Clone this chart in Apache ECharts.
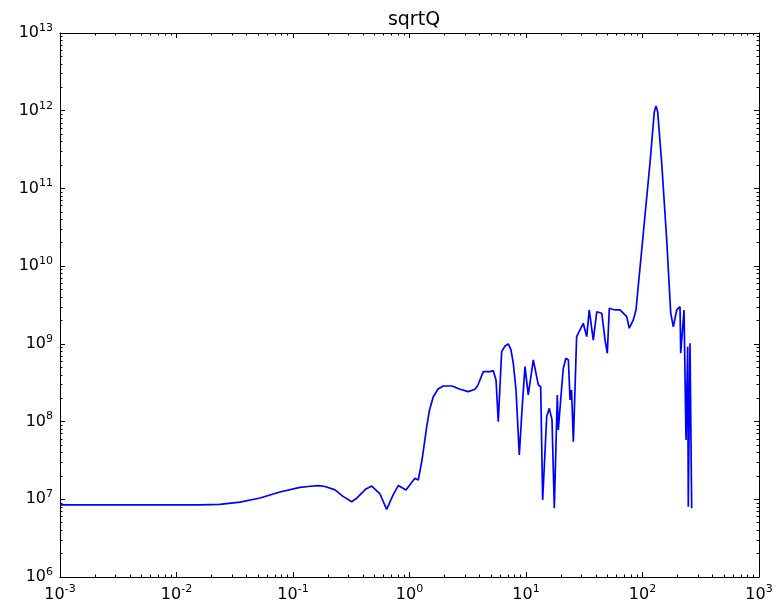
<!DOCTYPE html>
<html>
<head>
<meta charset="utf-8">
<script src="https://cdn.jsdelivr.net/npm/echarts@6/dist/echarts.min.js"></script>
<style>html,body{margin:0;padding:0;background:#fff}#c{width:778px;height:605px}</style>
</head>
<body>
<div id="c"></div>
<script>
const title = 'sqrtQ';
const xValues = [0.001, 0.00592, 0.0158, 0.0236, 0.0351, 0.0521, 0.0773, 0.1148, 0.1346, 0.164, 0.1884, 0.2296, 0.2687, 0.319, 0.354, 0.391, 0.423, 0.474, 0.558, 0.637, 0.722, 0.801, 0.933, 1.051, 1.114, 1.19, 1.28, 1.406, 1.485, 1.60, 1.757, 1.95, 2.32, 2.71, 3.20, 3.65, 3.87, 4.30, 4.91, 5.24, 5.53, 5.78, 6.18, 6.61, 7.05, 7.43, 7.78, 8.21, 8.76, 9.24, 9.80, 10.46, 11.55, 12.76, 13.37, 13.90, 15.06, 15.85, 16.72, 17.50, 18.57, 18.93, 20.26, 20.9, 22.0, 23.1, 23.9, 24.6, 25.5, 27.2, 29.1, 31.0, 33.2, 34.9, 37.8, 40.5, 44.7, 47.7, 49.9, 51.9, 58.1, 64.1, 73.2, 77.0, 83.4, 87.9, 101.6, 115.9, 126.3, 130.6, 135.0, 146.2, 161.4, 174.7, 183.9, 196.6, 209.9, 212.8, 227.2, 236.3, 244.3, 247.2, 255.7, 264.4];
const yValues = [8.45e6, 8.45e6, 8.45e6, 8.6e6, 9.2e6, 1.04e7, 1.24e7, 1.42e7, 1.46e7, 1.50e7, 1.46e7, 1.32e7, 1.09e7, 9.3e6, 1.04e7, 1.21e7, 1.36e7, 1.48e7, 1.17e7, 7.43e6, 1.13e7, 1.50e7, 1.32e7, 1.67e7, 1.86e7, 1.77e7, 3.2e7, 8.6e7, 1.41e8, 2.09e8, 2.63e8, 2.87e8, 2.87e8, 2.61e8, 2.43e8, 2.61e8, 2.96e8, 4.39e8, 4.39e8, 4.52e8, 3.43e8, 9.97e7, 7.94e8, 9.4e8, 9.97e8, 8.35e8, 5.62e8, 2.55e8, 3.72e7, 1.41e8, 5.09e8, 2.20e8, 6.21e8, 2.96e8, 2.81e8, 9.8e6, 1.16e8, 1.48e8, 1.05e8, 7.66e6, 2.20e8, 7.8e7, 2.81e8, 4.85e8, 6.53e8, 6.21e8, 1.90e8, 2.55e8, 5.5e7, 1.24e9, 1.51e9, 1.84e9, 1.24e9, 2.73e9, 1.12e9, 2.59e9, 2.48e9, 1.12e9, 7.57e8, 2.87e9, 2.73e9, 2.73e9, 2.24e9, 1.59e9, 2.03e9, 2.73e9, 2.65e10, 2.11e11, 9.66e11, 1.15e12, 9.66e11, 2.11e11, 2.17e10, 2.48e9, 1.66e9, 2.73e9, 3.01e9, 7.57e8, 2.73e9, 5.79e7, 9.2e8, 8.04e6, 1.02e9, 7.66e6];
const xMajorTicks = [1e-3, 1e-2, 1e-1, 1e0, 1e1, 1e2, 1e3];
const yMajorTicks = [1e6, 1e7, 1e8, 1e9, 1e10, 1e11, 1e12, 1e13];
const minorMultipliers = [2, 3, 4, 5, 6, 7, 8, 9];

function minorOf(majors) {
  const out = [];
  for (let i = 0; i < majors.length - 1; i++) {
    for (const m of minorMultipliers) out.push(majors[i] * m);
  }
  return out;
}
const xMinorTicks = minorOf(xMajorTicks);
const yMinorTicks = minorOf(yMajorTicks);

const FONT = 'DejaVu Sans';
const rich = {
  b: { fontFamily: FONT, fontSize: 16, color: '#000' },
  s: { fontFamily: FONT, fontSize: 11, color: '#000', padding: [0, 0, 10, 0] }
};
function fmt(v) {
  const e = Math.round(Math.log10(v));
  return '{b|10}{s|' + e + '}';
}
const data = xValues.map((x, i) => [x, yValues[i]]);

function xAxis(pos, major, labels, line) {
  return {
    type: 'log', logBase: 10, position: pos, min: 1e-3, max: 1e3,
    axisLine: { show: line, onZero: false, lineStyle: { color: '#000', width: 1 } },
    axisTick: { show: true, inside: true, length: major ? 5 : 2.5, customValues: major ? xMajorTicks : xMinorTicks, lineStyle: { color: '#000', width: 1 } },
    axisLabel: labels ? { show: true, customValues: xMajorTicks, formatter: fmt, rich: rich, margin: 7 } : { show: false },
    splitLine: { show: false }, minorTick: { show: false }
  };
}
function yAxis(pos, major, labels, line) {
  return {
    type: 'log', logBase: 10, position: pos, min: 1e6, max: 1e13,
    axisLine: { show: line, onZero: false, lineStyle: { color: '#000', width: 1 } },
    axisTick: { show: true, inside: true, length: major ? 5 : 2.5, customValues: major ? yMajorTicks : yMinorTicks, lineStyle: { color: '#000', width: 1 } },
    axisLabel: labels ? { show: true, customValues: yMajorTicks, formatter: fmt, rich: rich, margin: 7 } : { show: false },
    splitLine: { show: false }, minorTick: { show: false }
  };
}

const chart = echarts.init(document.getElementById('c'), null, { renderer: 'canvas' });
chart.setOption({
  animation: false,
  backgroundColor: '#fff',
  title: { text: title, left: 409, top: 6, textAlign: 'center', textStyle: { fontFamily: FONT, fontSize: 19, fontWeight: 'normal', color: '#000' } },
  grid: { left: 60, right: 19, top: 33, bottom: 28, containLabel: false },
  xAxis: [
    xAxis('bottom', true, true, true),
    xAxis('bottom', false, false, false),
    xAxis('top', true, false, true),
    xAxis('top', false, false, false)
  ],
  yAxis: [
    yAxis('left', true, true, true),
    yAxis('left', false, false, false),
    yAxis('right', true, false, true),
    yAxis('right', false, false, false)
  ],
  series: [{
    type: 'line', xAxisIndex: 0, yAxisIndex: 0, data: data, showSymbol: false,
    lineStyle: { color: '#0000ff', width: 1.7 }, smooth: false
  }]
});
</script>
</body>
</html>
